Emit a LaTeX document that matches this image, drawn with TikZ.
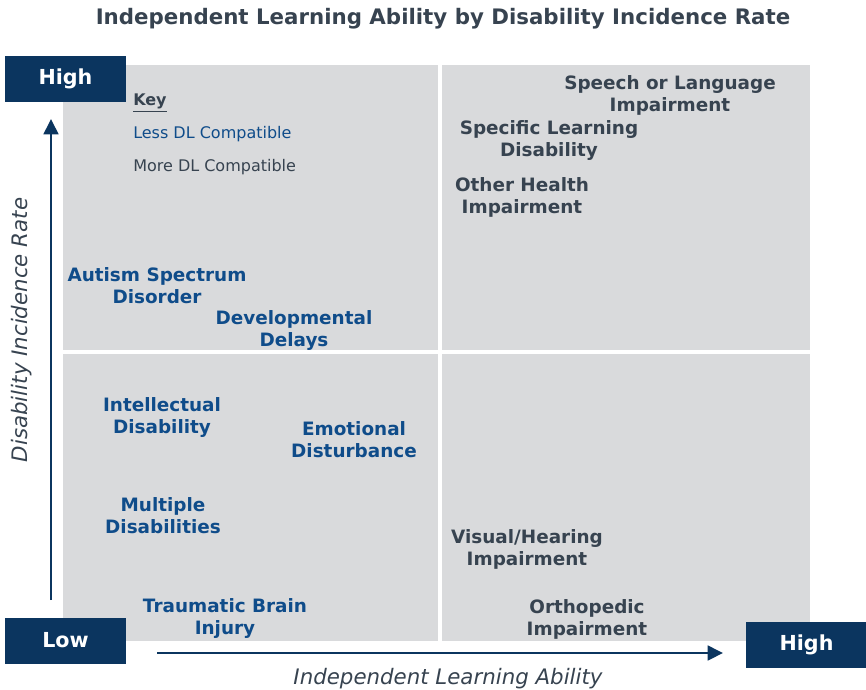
\documentclass[tikz,border=0pt]{standalone}
\usepackage{fontspec}
\setmainfont{DejaVu Sans}
\usetikzlibrary{arrows.meta}
\definecolor{navy}{HTML}{0B355F}
\definecolor{quad}{HTML}{D9DADC}
\definecolor{lessdl}{HTML}{0F4C8A}
\definecolor{moredl}{HTML}{374350}
\begin{document}
\begin{tikzpicture}[x=0.75pt,y=-0.75pt,
  quadrant/.style={fill=quad,draw=none},
  levelbox/.style={fill=navy,text=white,font=\fontsize{15.5}{17}\selectfont\bfseries,
    minimum width=90.75pt,minimum height=34.5pt,inner sep=0pt},
  item/.style={align=center,inner sep=0pt,font=\fontsize{13.8}{16.5}\selectfont\bfseries},
  less/.style={item,text=lessdl},
  more/.style={item,text=moredl},
  keytext/.style={anchor=west,inner sep=0pt,font=\fontsize{12}{14}\selectfont},
  axislabel/.style={font=\fontsize{16}{18}\selectfont\itshape,text=moredl,inner sep=0pt},
  axisarrow/.style={draw=navy,line width=2pt,-{Triangle[length=11.5pt,width=11pt]}}]
\useasboundingbox (0,0) rectangle (866,689);

% title
\node[font=\fontsize{16}{18}\selectfont\bfseries,text=moredl,inner sep=0pt] (title) at (443,19)
  {Independent Learning Ability by Disability Incidence Rate};

% four quadrants
\fill[quadrant] (63,65) rectangle (438,350);
\fill[quadrant] (442,65) rectangle (810,350);
\fill[quadrant] (63,354) rectangle (438,641);
\fill[quadrant] (442,354) rectangle (810,641);

% axis end labels
\node[levelbox] (yhigh) at (65.5,79) {High};
\node[levelbox] (low) at (65.5,640.5) {Low};
\node[levelbox] (xhigh) at (806.5,645) {High};

% axes
\coordinate (ystart) at (51,600);
\coordinate (yend) at (51,119);
\coordinate (xstart) at (157,653);
\coordinate (xend) at (723,653);
\draw[axisarrow] (ystart) -- (yend);
\draw[axisarrow] (xstart) -- (xend);
\node[axislabel,rotate=90] (ylabel) at (22,330) {Disability Incidence Rate};
\node[axislabel] (xlabel) at (448,678.5) {Independent Learning Ability};

% key
\node[keytext,text=moredl,font=\fontsize{12}{14}\selectfont\bfseries] (key) at (133,103) {\underline{Key}};
\node[keytext,text=lessdl] (keyless) at (133,134) {Less DL Compatible};
\node[keytext,text=moredl] (keymore) at (133,167) {More DL Compatible};

% less compatible categories
\node[less] (asd) at (157,286) {Autism Spectrum\\Disorder};
\node[less] (dd) at (294,330) {Developmental\\Delays};
\node[less] (id) at (162,417) {Intellectual\\Disability};
\node[less] (ed) at (354,440) {Emotional\\Disturbance};
\node[less] (md) at (163,516) {Multiple\\Disabilities};
\node[less] (tbi) at (225,618) {Traumatic Brain\\Injury};

% more compatible categories
\node[more] (sli) at (670,95) {Speech or Language\\Impairment};
\node[more] (sld) at (549,140) {Specific Learning\\Disability};
\node[more] (ohi) at (522,197) {Other Health\\Impairment};
\node[more] (vhi) at (527,549) {Visual/Hearing\\Impairment};
\node[more] (oi) at (587,619) {Orthopedic\\Impairment};
\end{tikzpicture}
\end{document}
